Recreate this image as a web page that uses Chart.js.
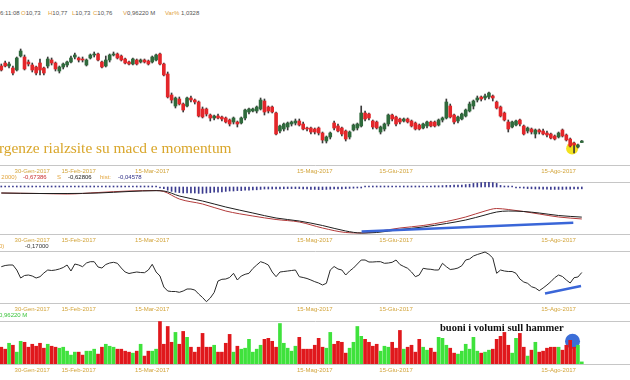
<!DOCTYPE html>
<html><head><meta charset="utf-8">
<script src="https://cdn.jsdelivr.net/npm/chart.js@4.4.1/dist/chart.umd.min.js"></script>
<style>
html,body{margin:0;padding:0;background:#fff}
body{position:relative;width:630px;height:380px;overflow:hidden;font-family:"Liberation Sans",Arial,sans-serif}
canvas{position:absolute;left:0}
.t{position:absolute;white-space:nowrap;font-size:6px;line-height:6px;z-index:5}
.o{color:#e2a43c}.g{color:#555}
.ann{position:absolute;white-space:nowrap;font-family:"Liberation Serif","Times New Roman",serif;z-index:6}
</style></head><body>
<canvas id="cPrice" width="630" height="159" style="top:17px"></canvas>
<canvas id="cMacd" width="630" height="63" style="top:182px"></canvas>
<canvas id="cMom" width="630" height="63" style="top:251px"></canvas>
<canvas id="cVol" width="630" height="54" style="top:321px"></canvas>

<div class="t g" style="left:0;top:10px">6:11:08</div>
<div class="t" style="left:21px;top:10px"><span class="o">O</span><span class="g">10,73</span></div>
<div class="t" style="left:48px;top:10px"><span class="o">H</span><span class="g">10,77</span></div>
<div class="t" style="left:72px;top:10px"><span class="o">L</span><span class="g">10,73</span></div>
<div class="t" style="left:93px;top:10px"><span class="o">C</span><span class="g">10,76</span></div>
<div class="t" style="left:123px;top:10px"><span class="o">V</span><span class="g">0,96220 M</span></div>
<div class="t" style="left:165px;top:10px"><span class="o">Var%</span><span class="g"> 1,0328</span></div>

<div class="t o" style="left:-2px;top:174px">, 2000)</div>
<div class="t" style="left:23px;top:174px;color:#c83030">-0,67386</div>
<div class="t o" style="left:57px;top:174px">S</div>
<div class="t" style="left:68px;top:174px;color:#222">-0,62806</div>
<div class="t o" style="left:100px;top:174px">hist:</div>
<div class="t" style="left:118px;top:174px;color:#2e2e86">-0,04578</div>

<div class="t o" style="left:-1px;top:243px">0)</div>
<div class="t" style="left:25px;top:243px;color:#333">-0,17000</div>

<div class="t" style="left:-1px;top:312px;color:#3cc43c">0,96220 M</div>

<div class="ann" style="left:-31px;top:140px;font-size:15.4px;line-height:15px;color:#d9a62a">Divergenze rialzsite su macd e momentum</div>
<div class="ann" style="left:440px;top:322px;font-size:10.5px;line-height:11px;font-weight:bold;color:#111">buoni i volumi sull hammer</div>

<script>
// ---------- data ----------
const tickIdx = [8, 20, 39, 81, 102, 144];
const tickLabels = ['30-Gen-2017','15-Feb-2017','15-Mar-2017','15-Mag-2017','15-Giu-2017','15-Ago-2017'];

const openP = [
12.26,12.32,12.26,12.22,12.18,12.46,12.44,12.34,12.28,12.24,
12.32,12.22,12.26,12.38,12.32,12.16,12.24,12.28,12.34,12.44,
12.42,12.40,12.28,12.42,12.48,12.50,12.34,12.26,12.38,12.48,
12.50,12.46,12.40,12.34,12.30,12.38,12.34,12.38,12.36,12.34,
12.38,12.50,12.30,12.10,11.68,11.46,11.60,11.50,11.46,11.62,
11.58,11.54,11.40,11.40,11.28,11.22,11.26,11.24,11.22,11.18,
11.14,11.14,11.12,11.22,11.34,11.36,11.36,11.40,11.56,11.44,
11.44,11.32,10.96,11.00,11.04,11.10,11.12,11.16,11.10,11.02,
11.02,11.00,11.02,10.92,10.76,10.84,11.12,11.06,11.02,10.96,
10.84,10.98,11.02,11.06,11.32,11.30,11.16,11.14,10.94,11.00,
11.10,11.28,11.24,11.20,11.16,11.20,11.16,11.12,11.08,11.02,
11.06,11.14,11.14,11.08,11.18,11.22,11.46,11.28,11.16,11.20,
11.26,11.36,11.46,11.58,11.64,11.62,11.64,11.66,11.54,11.44,
11.32,11.14,11.04,11.08,11.18,11.06,10.96,11.00,10.90,10.98,
10.96,10.92,10.90,10.86,10.84,10.98,10.88,10.80,10.72,10.64,10.73];
const highP = [
12.30,12.36,12.34,12.26,12.44,12.60,12.48,12.38,12.32,12.26,
12.40,12.24,12.44,12.42,12.34,12.26,12.32,12.36,12.46,12.52,
12.44,12.44,12.40,12.50,12.54,12.52,12.36,12.46,12.50,12.54,
12.52,12.48,12.42,12.36,12.42,12.40,12.40,12.40,12.38,12.46,
12.50,12.52,12.32,12.14,11.72,11.64,11.64,11.52,11.64,11.66,
11.60,11.56,11.44,11.42,11.30,11.28,11.30,11.26,11.24,11.20,
11.24,11.16,11.24,11.40,11.42,11.42,11.46,11.62,11.60,11.46,
11.46,11.34,11.08,11.12,11.14,11.16,11.20,11.20,11.14,11.04,
11.04,11.02,11.04,10.94,10.86,10.94,11.16,11.10,11.04,10.98,
10.96,11.10,11.12,11.46,11.36,11.32,11.18,11.16,11.06,11.12,
11.30,11.30,11.26,11.22,11.22,11.22,11.18,11.14,11.10,11.12,
11.16,11.16,11.16,11.20,11.24,11.60,11.50,11.30,11.26,11.32,
11.40,11.54,11.58,11.66,11.66,11.70,11.74,11.68,11.56,11.46,
11.34,11.18,11.16,11.18,11.20,11.08,11.04,11.02,11.00,11.00,
11.00,10.96,10.92,10.88,10.94,11.00,10.90,10.82,10.74,10.70,10.77];
const lowP = [
12.16,12.24,12.22,12.08,12.16,12.44,12.18,12.26,12.14,12.08,
12.08,12.08,12.22,12.28,12.16,12.12,12.20,12.24,12.32,12.40,
12.34,12.34,12.26,12.40,12.44,12.36,12.22,12.24,12.34,12.46,
12.40,12.36,12.30,12.28,12.28,12.28,12.32,12.32,12.28,12.32,
12.36,12.28,12.06,11.62,11.52,11.42,11.48,11.34,11.44,11.54,
11.50,11.24,11.22,11.26,11.16,11.18,11.20,11.16,11.12,11.06,
11.10,11.04,11.10,11.18,11.30,11.34,11.32,11.38,11.28,11.32,
11.32,10.88,10.92,10.96,10.98,11.06,11.08,11.06,10.98,10.96,
10.90,10.90,10.88,10.72,10.72,10.80,10.98,10.94,10.86,10.76,
10.80,10.96,10.98,11.04,11.16,11.18,11.00,11.00,10.90,10.96,
11.06,11.16,11.06,11.10,11.14,11.12,11.04,10.98,10.98,11.00,
11.02,11.04,11.04,11.06,11.14,11.20,11.22,11.10,11.12,11.18,
11.24,11.34,11.40,11.54,11.56,11.58,11.60,11.56,11.40,11.24,
11.16,10.94,11.02,11.06,11.06,10.88,10.92,10.90,10.82,10.90,
10.88,10.84,10.80,10.78,10.82,10.84,10.76,10.64,10.52,10.62,10.73];
const closeP = [
12.18,12.26,12.30,12.12,12.42,12.56,12.20,12.30,12.18,12.12,
12.18,12.12,12.40,12.32,12.20,12.24,12.30,12.34,12.42,12.48,
12.38,12.38,12.38,12.48,12.50,12.38,12.24,12.38,12.48,12.50,
12.42,12.38,12.32,12.30,12.40,12.30,12.38,12.34,12.30,12.44,
12.48,12.30,12.08,11.64,11.58,11.62,11.50,11.38,11.62,11.58,
11.54,11.26,11.24,11.30,11.22,11.26,11.22,11.20,11.14,11.10,
11.22,11.10,11.22,11.38,11.40,11.40,11.44,11.58,11.34,11.36,
11.34,10.90,11.06,11.10,11.12,11.14,11.16,11.08,11.00,11.00,
10.94,10.94,10.92,10.78,10.84,10.92,11.02,10.96,10.90,10.80,
10.94,11.08,11.10,11.32,11.20,11.22,11.04,11.02,11.04,11.10,
11.28,11.20,11.10,11.14,11.20,11.14,11.06,11.00,11.00,11.10,
11.14,11.06,11.06,11.18,11.22,11.54,11.24,11.14,11.24,11.30,
11.38,11.50,11.56,11.62,11.60,11.66,11.72,11.62,11.42,11.26,
11.18,11.00,11.14,11.16,11.10,10.90,11.02,10.94,10.98,10.94,
10.90,10.88,10.82,10.80,10.92,10.86,10.78,10.66,10.68,10.68,10.76];

// volume, millions
const volume = [
7.65,6.75,9.45,8.55,5.40,10.35,9.90,7.65,9.00,8.10,
9.45,7.20,9.00,8.10,7.65,7.20,7.65,5.85,4.05,5.40,
5.40,4.05,5.85,5.85,6.75,4.50,7.65,9.00,8.10,7.65,
6.75,6.75,5.85,5.40,4.95,5.85,9.00,3.60,5.85,5.85,
6.75,19.35,9.00,17.10,9.90,14.40,9.00,14.85,12.15,7.65,
5.40,7.65,13.95,7.65,7.65,8.55,5.40,5.40,9.45,13.50,
5.40,8.10,6.75,7.20,11.25,5.40,6.75,8.55,11.25,11.70,
10.35,7.65,18.45,9.45,7.20,5.85,8.10,12.15,6.75,6.75,
6.75,8.55,11.70,7.65,7.20,14.40,9.00,10.35,9.90,4.95,
7.20,9.90,17.10,12.60,11.25,9.90,8.10,9.00,5.85,8.10,
7.65,9.90,7.20,15.30,6.75,7.65,8.55,5.40,11.25,7.65,
6.30,7.20,5.40,12.15,11.70,8.55,7.20,4.95,4.50,5.85,
9.00,6.75,12.15,5.85,4.95,5.40,6.30,6.75,11.25,12.60,
14.40,8.55,4.95,11.70,13.95,7.65,3.60,6.30,9.90,5.40,
5.85,7.20,7.65,7.65,7.65,6.30,8.55,10.80,7.65,8.55,0.96];

// MACD (sampled at the indices where the smooth curves were read)
const macdIdx    = [0,10,17,25,33,40,42,46,52,58,65,71,77,83,89,93,97,103,109,115,120,125,128,131,135,139,144,150];
const macdLine   = [-0.025,-0.0375,-0.05,-0.0125,0.025,0.0375,0.0125,-0.175,-0.30,-0.475,-0.60,-0.6875,-0.75,-0.90,-1.0125,-1.025,-0.9875,-0.90,-0.8375,-0.7375,-0.625,-0.475,-0.4125,-0.4375,-0.4875,-0.55,-0.625,-0.674];
const signalLine = [-0.025,-0.0375,-0.0375,-0.025,0.0125,0.0325,0.025,-0.10,-0.225,-0.375,-0.525,-0.65,-0.725,-0.8375,-0.975,-1.025,-1.0125,-0.9375,-0.875,-0.7875,-0.70,-0.575,-0.50,-0.475,-0.4875,-0.525,-0.5875,-0.628];
const histogram = [
0.003,0.003,0.003,0.003,0.003,0.003,0.003,0.003,0.003,0.003,
0.003,0.003,0.003,0.003,0.003,0.003,0.003,0.003,0.003,0.003,
0.003,0.003,0.003,0.003,0.003,0.008,0.008,0.008,0.008,0.008,
0.008,0.008,0.008,0.008,0.008,0.008,0.008,0.008,0.008,0.008,
0.008,-0.01,-0.04,-0.08,-0.11,-0.13,-0.14,-0.15,-0.15,-0.15,
-0.15,-0.16,-0.16,-0.15,-0.14,-0.13,-0.13,-0.12,-0.11,-0.10,
-0.10,-0.09,-0.09,-0.08,-0.08,-0.07,-0.07,-0.06,-0.05,-0.05,
-0.05,-0.05,-0.05,-0.045,-0.04,-0.04,-0.04,-0.04,-0.045,-0.05,
-0.06,-0.06,-0.065,-0.065,-0.06,-0.055,-0.05,-0.05,-0.045,-0.04,
-0.035,-0.03,-0.02,-0.01,0.01,0.01,0.01,0.01,0.01,0.01,
0.01,0.01,0.01,0.01,0.01,0.01,0.01,0.01,0.01,0.01,
0.02,0.025,0.03,0.03,0.035,0.04,0.04,0.045,0.05,0.05,
0.06,0.07,0.09,0.10,0.11,0.115,0.12,0.11,0.09,0.04,
0.02,0.01,0.005,-0.005,-0.01,-0.03,-0.04,-0.045,-0.05,-0.05,
-0.055,-0.055,-0.06,-0.06,-0.06,-0.06,-0.055,-0.055,-0.05,-0.05,-0.046];

const momentum = [
-0.054,-0.03,-0.02,-0.02,-0.12,-0.28,-0.23,-0.22,-0.24,-0.28,
-0.254,-0.18,-0.12,-0.13,-0.12,-0.10,-0.07,-0.02,-0.14,0.0,
-0.02,-0.054,0.02,0.046,0.046,-0.06,-0.08,-0.01,0.02,0.034,
0.014,-0.08,-0.16,-0.19,-0.174,-0.16,-0.17,-0.174,-0.12,-0.006,
-0.16,-0.24,-0.46,-0.54,-0.55,-0.55,-0.566,-0.54,-0.50,-0.50,
-0.52,-0.60,-0.67,-0.754,-0.68,-0.57,-0.34,-0.306,-0.30,-0.27,
-0.186,-0.32,-0.24,-0.206,-0.186,-0.09,-0.02,0.046,0.02,-0.02,
-0.16,-0.254,-0.16,-0.15,-0.14,-0.13,-0.12,-0.254,-0.27,-0.29,
-0.32,-0.354,-0.38,-0.42,-0.386,-0.12,-0.05,-0.10,-0.12,-0.22,
-0.14,-0.08,0.0,0.08,0.08,0.04,0.04,0.046,0.046,0.014,
0.02,0.034,0.08,-0.01,-0.05,-0.086,-0.16,-0.254,-0.22,-0.086,
-0.10,-0.106,-0.12,-0.12,0.014,-0.054,-0.11,-0.10,-0.08,-0.034,
0.08,0.10,0.16,0.19,0.214,0.24,0.194,0.12,-0.186,-0.12,
-0.14,-0.15,-0.15,-0.186,-0.30,-0.36,-0.386,-0.454,-0.48,-0.534,
-0.48,-0.42,-0.354,-0.274,-0.22,-0.25,-0.32,-0.38,-0.274,-0.26,-0.17];

// hand-drawn trend lines and highlights (index, value)
const macdTrendIdx = [93.1, 147.8];
const macdTrendVal = [-0.99, -0.77];
const momTrendIdx  = [140.5, 149.8];
const momTrendVal  = [-0.59, -0.44];
const hammerMark   = [{x:147.5, y:10.61}];
const volumeMark   = [{x:147.6, y:10.35}];

// ---------- drawing ----------
const N = closeP.length;
const idx = Array.from({length:N}, (_, i) => i);
const LINE = '#c6c6c6', GOLD = '#d2a43a';
const XMIN = -1.3/3.87, XMAX = (630-1.3)/3.87;
const FONT = {family:"'Liberation Sans', Arial, sans-serif", size:6};
const isUp = i => closeP[i] >= openP[i];

function xAxis(){ return {
  type:'linear', position:'bottom', min:XMIN, max:XMAX, offset:false,
  afterBuildTicks(s){ s.ticks = tickIdx.map(v => ({value:v})); },
  afterFit(s){ s.height = 11; s.paddingLeft = 0; s.paddingRight = 0; },
  ticks:{ autoSkip:false, maxRotation:0, minRotation:0, padding:3, color:GOLD, font:FONT,
          callback:(v) => { const k = tickIdx.indexOf(v); return k < 0 ? '' : tickLabels[k]; } },
  grid:{ display:false, drawTicks:false, offset:false },
  border:{ display:true, color:LINE, width:1 }
};}
function topAxis(){ return {
  type:'linear', position:'top', min:XMIN, max:XMAX, offset:false,
  afterFit(s){ s.height = 0; s.paddingLeft = 0; s.paddingRight = 0; },
  ticks:{ display:false }, grid:{ display:false, drawTicks:false, offset:false },
  border:{ display:true, color:LINE, width:1 }
};}
function opts(scales){ return {
  responsive:false, animation:false, devicePixelRatio:1, events:[],
  layout:{ padding:0, autoPadding:false },
  plugins:{ legend:{display:false}, tooltip:{enabled:false}, title:{display:false} },
  scales
};}

// price
new Chart(document.getElementById('cPrice'), {
  type:'bar',
  data:{ datasets:[
    { type:'bubble', xAxisID:'x', data:hammerMark.map(p => ({x:p.x, y:p.y, r:6})), backgroundColor:'#f3e21e', borderWidth:0, order:3 },
    { type:'bar', xAxisID:'x', data:idx.map(i => ({x:i, y:[lowP[i], highP[i]]})), backgroundColor:'#3a3a3a', barThickness:1, grouped:false, order:2 },
    { type:'bar', xAxisID:'x', data:idx.map(i => ({x:i, y:[openP[i], closeP[i]]})),
      backgroundColor:idx.map(i => isUp(i) ? '#2f6a3c' : '#e3262a'), barThickness:3, minBarLength:1, grouped:false, order:1 }
  ]},
  options:opts({ x:xAxis(), y:{ display:false, min:10.28, max:13.24 } })
});

// MACD
new Chart(document.getElementById('cMacd'), {
  type:'bar',
  data:{ datasets:[
    { type:'bar', xAxisID:'x', yAxisID:'yh', data:idx.map(i => ({x:i, y:histogram[i]})), backgroundColor:'#3b3b8f', barThickness:1, minBarLength:1, grouped:false, order:4 },
    { type:'line', xAxisID:'x', yAxisID:'y', data:macdIdx.map((x,k) => ({x, y:macdLine[k]})), borderColor:'#b23a3a', borderWidth:1, pointRadius:0, cubicInterpolationMode:'monotone', order:3 },
    { type:'line', xAxisID:'x', yAxisID:'y', data:macdIdx.map((x,k) => ({x, y:signalLine[k]})), borderColor:'#1e1e1e', borderWidth:1, pointRadius:0, cubicInterpolationMode:'monotone', order:2 },
    { type:'line', xAxisID:'x', yAxisID:'y', data:macdTrendIdx.map((x,k) => ({x, y:macdTrendVal[k]})), borderColor:'#3a66d8', borderWidth:2.5, pointRadius:0, order:1 }
  ]},
  options:opts({ x:xAxis(), xt:topAxis(), y:{ display:false, min:-1.05, max:0.25 }, yh:{ display:false, min:-1.175, max:0.125 } })
});

// momentum
new Chart(document.getElementById('cMom'), {
  type:'line',
  data:{ datasets:[
    { xAxisID:'x', data:idx.map(i => ({x:i, y:momentum[i]})), borderColor:'#2a2a2a', borderWidth:1, pointRadius:0, tension:0, order:2 },
    { xAxisID:'x', data:momTrendIdx.map((x,k) => ({x, y:momTrendVal[k]})), borderColor:'#3a66d8', borderWidth:2.5, pointRadius:0, order:1 }
  ]},
  options:opts({ x:xAxis(), xt:topAxis(), y:{ display:false, min:-0.78, max:0.26 } })
});

// volume
new Chart(document.getElementById('cVol'), {
  type:'bar',
  data:{ datasets:[
    { type:'bubble', xAxisID:'x', data:volumeMark.map(p => ({x:p.x, y:p.y, r:7.5})), backgroundColor:'#3c6ed8', borderWidth:0, order:2 },
    { type:'bar', xAxisID:'x', data:idx.map(i => ({x:i, y:volume[i]})),
      backgroundColor:idx.map(i => isUp(i) ? '#3fe23c' : '#e0181c'), barThickness:3, grouped:false, order:1 }
  ]},
  options:opts({ x:xAxis(), xt:topAxis(), y:{ display:false, min:0, max:19.6 } })
});
</script>
</body></html>
